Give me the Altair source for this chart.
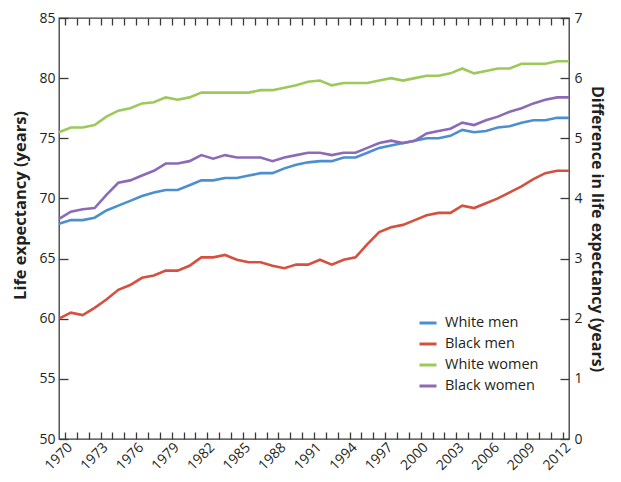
import altair as alt
import pandas as pd

# ---- data ----
years = list(range(1970, 2014))
white_men = [67.9, 68.2, 68.2, 68.4, 69.0, 69.4, 69.8, 70.2, 70.5, 70.7,
             70.7, 71.1, 71.5, 71.5, 71.7, 71.7, 71.9, 72.1, 72.1, 72.5,
             72.8, 73.0, 73.1, 73.1, 73.4, 73.4, 73.8, 74.2, 74.4, 74.6,
             74.8, 75.0, 75.0, 75.2, 75.7, 75.5, 75.6, 75.9, 76.0, 76.3,
             76.5, 76.5, 76.7, 76.7]
black_men = [60.0, 60.5, 60.3, 60.9, 61.6, 62.4, 62.8, 63.4, 63.6, 64.0,
             64.0, 64.4, 65.1, 65.1, 65.3, 64.9, 64.7, 64.7, 64.4, 64.2,
             64.5, 64.5, 64.9, 64.5, 64.9, 65.1, 66.2, 67.2, 67.6, 67.8,
             68.2, 68.6, 68.8, 68.8, 69.4, 69.2, 69.6, 70.0, 70.5, 71.0,
             71.6, 72.1, 72.3, 72.3]
white_women = [75.5, 75.9, 75.9, 76.1, 76.8, 77.3, 77.5, 77.9, 78.0, 78.4,
               78.2, 78.4, 78.8, 78.8, 78.8, 78.8, 78.8, 79.0, 79.0, 79.2,
               79.4, 79.7, 79.8, 79.4, 79.6, 79.6, 79.6, 79.8, 80.0, 79.8,
               80.0, 80.2, 80.2, 80.4, 80.8, 80.4, 80.6, 80.8, 80.8, 81.2,
               81.2, 81.2, 81.4, 81.4]
black_women = [68.3, 68.9, 69.1, 69.2, 70.3, 71.3, 71.5, 71.9, 72.3, 72.9,
               72.9, 73.1, 73.6, 73.3, 73.6, 73.4, 73.4, 73.4, 73.1, 73.4,
               73.6, 73.8, 73.8, 73.6, 73.8, 73.8, 74.2, 74.6, 74.8, 74.6,
               74.8, 75.4, 75.6, 75.8, 76.3, 76.1, 76.5, 76.8, 77.2, 77.5,
               77.9, 78.2, 78.4, 78.4]
series_names = ["White men", "Black men", "White women", "Black women"]
series_colors = ["#4b8fd0", "#d5503f", "#9dc95a", "#8b6bb8"]
tick_years = list(range(1970, 2013))
left_ticks = [50, 55, 60, 65, 70, 75, 80, 85]
right_ticks = [0, 1, 2, 3, 4, 5, 6, 7]

rows = []
for name, vals in zip(series_names, [white_men, black_men, white_women, black_women]):
    for yr, v in zip(years, vals):
        rows.append({"year": yr, "value": v, "series": name})
df = pd.DataFrame(rows)

FONT = "Open Sans"
INK = "#231f20"
AX = "#3a3a3a"
tick_pos = [y + 0.5 for y in tick_years]
label_expr = "(floor(datum.value) - 1970) % 3 == 0 ? toString(floor(datum.value)) : ''"

W, H = 510, 421
PAD = {"left": 51, "top": 10, "right": 44, "bottom": 35}

xscale = alt.Scale(domain=[1970, 2013], nice=False, zero=False)

lines = alt.Chart(df).mark_line(strokeWidth=2.6).encode(
    x=alt.X("year:Q", scale=xscale,
            axis=alt.Axis(orient="bottom", values=tick_pos, labelExpr=label_expr,
                          labelAngle=-45, tickSize=7, offset=-7, domain=False,
                          grid=False, labelPadding=1, labelOverlap=False,
                          labelFlush=False, title=None, labelFontSize=14)),
    y=alt.Y("value:Q", scale=alt.Scale(domain=[50, 85], nice=False, zero=False),
            axis=alt.Axis(orient="left", values=left_ticks, tickSize=9, offset=-9,
                          domain=False, grid=False, labelPadding=4,
                          title="Life expectancy (years)", titlePadding=10,
                          titleY=187,
                          labelFontSize=14, titleFontSize=16.5,
                          titleFontWeight="bold")),
    color=alt.Color("series:N",
                    scale=alt.Scale(domain=series_names, range=series_colors),
                    sort=series_names,
                    legend=alt.Legend(title=None, orient="none", legendX=359,
                                      legendY=295, symbolType="stroke",
                                      symbolSize=289, symbolStrokeWidth=3,
                                      labelFontSize=14.5, labelFont=FONT,
                                      labelColor=INK, rowPadding=4,
                                      labelOffset=7, padding=0)),
    detail="series:N",
)

right = alt.Chart(pd.DataFrame({"diff": right_ticks})).mark_point(opacity=0).encode(
    y=alt.Y("diff:Q", scale=alt.Scale(domain=[0, 7], nice=False, zero=False),
            axis=alt.Axis(orient="right", values=right_ticks, tickSize=9, offset=-9,
                          domain=False, grid=False, labelPadding=5,
                          title="Difference in life expectancy (years)",
                          titlePadding=6, labelFontSize=14, titleFontSize=16,
                          titleFontWeight="bold"))
)

top = alt.Chart(pd.DataFrame({"year": tick_years})).mark_point(opacity=0).encode(
    x=alt.X("year:Q", scale=xscale,
            axis=alt.Axis(orient="top", values=tick_pos, labels=False, tickSize=7,
                          offset=-7, domain=False, grid=False, title=None))
)

chart = (
    alt.layer(lines, right, top)
    .resolve_scale(y="independent")
    .resolve_axis(x="independent", y="independent")
    .properties(width=W, height=H, padding=PAD,
                autosize=alt.AutoSizeParams(type="none"))
    .configure(font=FONT)
    .configure_view(stroke=AX, strokeWidth=1.3)
    .configure_axis(tickColor=AX, tickWidth=1.3, labelColor=INK, titleColor=INK,
                    labelFont=FONT, titleFont=FONT)
)

chart.save("out.html", embed_options={"renderer": "svg", "actions": False})
